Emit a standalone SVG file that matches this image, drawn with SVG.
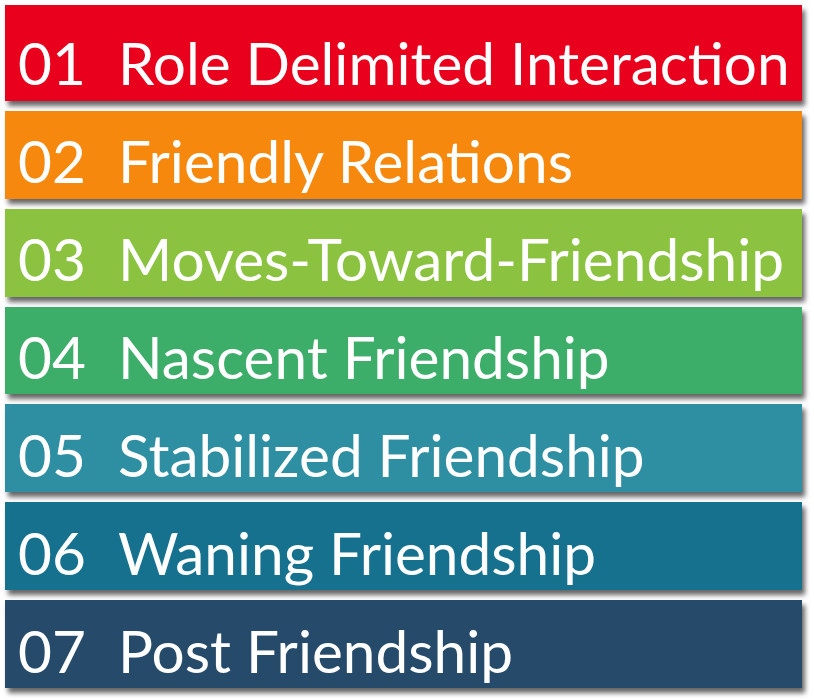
<svg xmlns="http://www.w3.org/2000/svg" width="814" height="700" viewBox="0 0 814 700">
<style>
.t{font-family:"Lato","Liberation Sans",sans-serif;font-size:58.5px;fill:#fff}
</style>
<defs>
<filter id="sh" x="-5%" y="-10%" width="112%" height="130%"><feDropShadow dx="3" dy="5" stdDeviation="2.5" flood-color="#000" flood-opacity="0.6"/></filter>
</defs>
<rect width="814" height="700" fill="#fff"/>
<g id="n7" filter="url(#sh)"><rect x="5" y="600" width="797" height="88" fill="#264B6B"/><text class="t" x="18" y="673">07</text><text class="t" x="118" y="673">Post Friendship</text></g>
<g id="n6" filter="url(#sh)"><rect x="5" y="502" width="797" height="88" fill="#13718F"/><text class="t" x="18" y="575">06</text><text class="t" x="118" y="575">Waning Friendship</text></g>
<g id="n5" filter="url(#sh)"><rect x="5" y="404" width="797" height="88" fill="#2F8FA2"/><text class="t" x="18" y="477">05</text><text class="t" x="118" y="477">Stabilized Friendship</text></g>
<g id="n4" filter="url(#sh)"><rect x="5" y="307" width="797" height="87" fill="#3EAE6A"/><text class="t" x="18" y="379">04</text><text class="t" x="118" y="379">Nascent Friendship</text></g>
<g id="n3" filter="url(#sh)"><rect x="5" y="209" width="797" height="88" fill="#8BC340"/><text class="t" x="18" y="281">03</text><text class="t" x="118" y="281">Moves-Toward-Friendship</text></g>
<g id="n2" filter="url(#sh)"><rect x="5" y="111" width="797" height="88" fill="#F5880A"/><text class="t" x="18" y="183">02</text><text class="t" x="118" y="183">Friendly Relations</text></g>
<g id="n1" filter="url(#sh)"><rect x="5" y="5" width="797" height="96" fill="#E9001B"/><text class="t" x="18" y="85">01</text><text class="t" x="118" y="85">Role Delimited Interaction</text></g>
<g id="connectors"/>
</svg>
